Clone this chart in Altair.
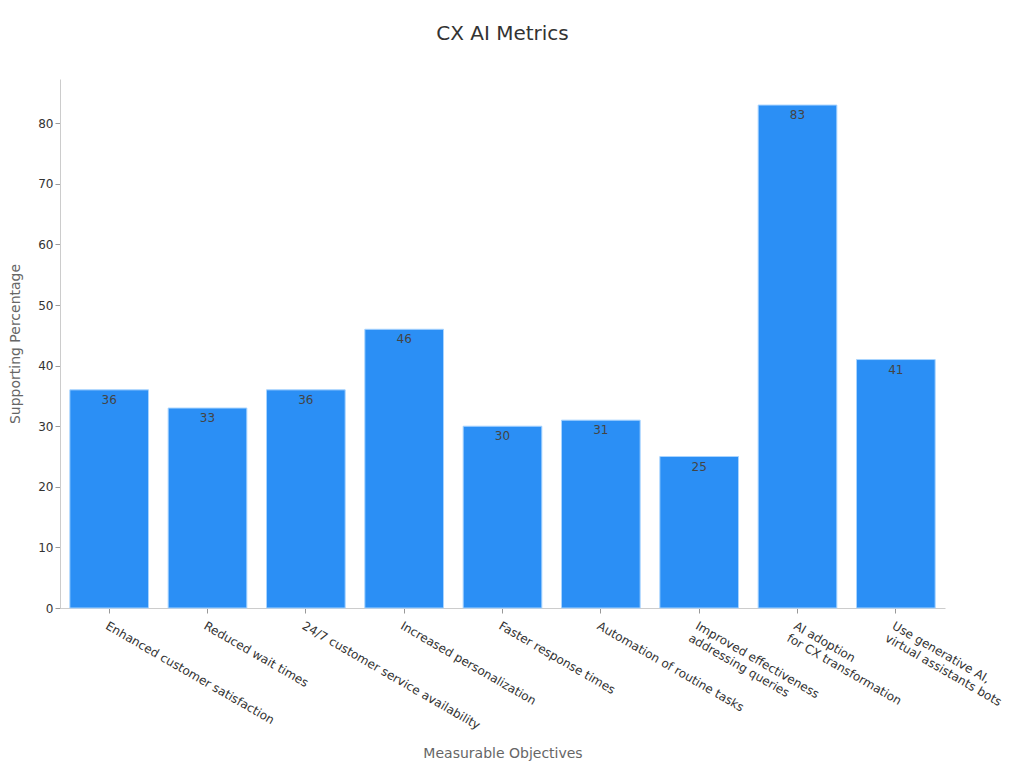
import altair as alt
import pandas as pd

categories = [
    "Enhanced customer satisfaction",
    "Reduced wait times",
    "24/7 customer service availability",
    "Increased personalization",
    "Faster response times",
    "Automation of routine tasks",
    "Improved effectiveness\naddressing queries",
    "AI adoption\nfor CX transformation",
    "Use generative AI,\nvirtual assistants bots",
]
values = [36, 33, 36, 46, 30, 31, 25, 83, 41]

df = pd.DataFrame({"objective": categories, "pct": values})

FONT = "DejaVu Sans"

base = alt.Chart(df).encode(
    x=alt.X(
        "objective:N",
        sort=categories,
        title="Measurable Objectives",
        scale=alt.Scale(paddingInner=0.2, paddingOuter=0.1),
        axis=alt.Axis(
            labelAngle=30,
            labelAlign="left",
            labelBaseline="top",
            labelExpr="split(datum.label, '\\n')",
            labelLimit=0,
            labelFontSize=12,
            labelColor="#333333",
            labelFont=FONT,
            titleFont=FONT,
            titleFontSize=14,
            titleFontWeight="normal",
            titleColor="#666666",
            titlePadding=15,
            domainColor="#cccccc",
            tickColor="#999999",
            labelPadding=7,
        ),
    ),
    y=alt.Y(
        "pct:Q",
        title="Supporting Percentage",
        scale=alt.Scale(domain=[0, 87.3], nice=False),
        axis=alt.Axis(
            values=[0, 10, 20, 30, 40, 50, 60, 70, 80],
            grid=False,
            labelFontSize=12,
            labelColor="#333333",
            labelFont=FONT,
            titleFont=FONT,
            titleFontSize=14,
            titleFontWeight="normal",
            titleColor="#666666",
            domainColor="#cccccc",
            tickColor="#999999",
            titlePadding=15,
        ),
    ),
)

bars = base.mark_bar(color="#2b8ff5", stroke="#a8d4ff", strokeWidth=1)
labels = base.mark_text(
    baseline="top", dy=5, fontSize=12, color="#444444", font=FONT
).encode(text="pct:Q")

chart = (
    (bars + labels)
    .properties(
        width=885,
        height=529,
        padding={"top": 16, "left": 0, "right": 5, "bottom": 5},
        title=alt.TitleParams(
            "CX AI Metrics", fontSize=20, fontWeight="normal", color="#333333",
            font=FONT, offset=35,
        ),
    )
    .configure_view(stroke=None)
)

chart.save("out.html", embed_options={"renderer": "svg", "actions": False})
